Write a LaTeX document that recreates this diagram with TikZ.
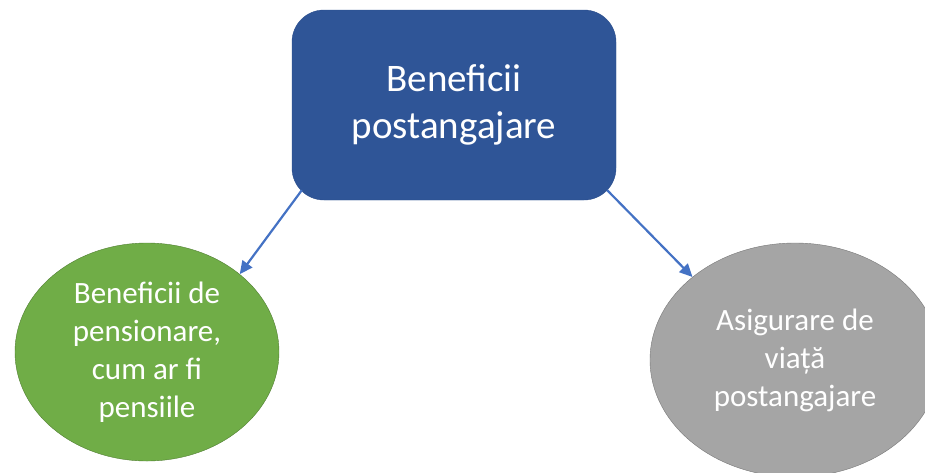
\documentclass[tikz,border=0pt]{standalone}
\usepackage{fontspec}
\setmainfont{Carlito}
\usetikzlibrary{arrows.meta,shapes.geometric}
\definecolor{boxblue}{HTML}{2F5597}
\definecolor{boxblueline}{HTML}{2B4E8C}
\definecolor{leafgreen}{HTML}{70AD47}
\definecolor{leafgreenline}{HTML}{507E32}
\definecolor{leafgray}{HTML}{A5A5A5}
\definecolor{leafgrayline}{HTML}{787878}
\definecolor{linkblue}{HTML}{4472C4}

\begin{document}
\begin{tikzpicture}[x=1pt,y=-1pt,
    topbox/.style={draw=boxblueline,fill=boxblue,rounded corners=32pt,minimum width=324pt,minimum height=190pt,text=white,align=center,font=\fontsize{39}{47}\selectfont},
    leaf/.style={ellipse,draw,text=white,align=center,inner sep=0pt,font=\fontsize{31}{38}\selectfont},
    link/.style={linkblue,line width=2.2pt,-{Triangle[length=13pt,width=12pt]}}]
\useasboundingbox (0,0) rectangle (925,472);
\clip (0,0) rectangle (925,472);
\node[topbox] (box) at (454,105) {Beneficii\\postangajare};
\node[leaf,fill=leafgreen,draw=leafgreenline,minimum width=264pt,minimum height=218pt] (pension) at (147,352) {Beneficii de\\pensionare,\\cum ar fi\\pensiile};
\node[leaf,fill=leafgray,draw=leafgrayline,minimum width=290pt,minimum height=234pt] (life) at (795,360) {Asigurare de\\viață\\postangajare};
\draw[link] ([xshift=10pt,yshift=10pt]box.south west) -- (pension.40);
\draw[link] ([xshift=-9pt,yshift=10pt]box.south east) -- (life.141);
\end{tikzpicture}
\end{document}
